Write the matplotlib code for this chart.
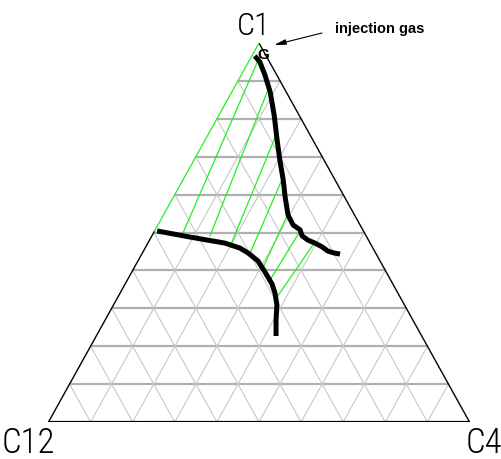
import matplotlib
matplotlib.use("Agg")
import matplotlib.pyplot as plt
from matplotlib.transforms import offset_copy
import numpy as np

# Pseudo-ternary diagram: C1 (top), C12 (bottom left), C4 (bottom right).
# Compositions are given as mole fractions (C1, C4); C12 = 1 - C1 - C4.
corners = ["C1", "C12", "C4"]

# Dew-point (vapour) branch of the two-phase envelope
vapour_c1 = [0.966, 0.950, 0.916, 0.871, 0.810, 0.744, 0.691, 0.639, 0.594,
             0.546, 0.520, 0.507, 0.491, 0.480, 0.472, 0.462, 0.451, 0.446, 0.443]
vapour_c4 = [0.007, 0.027, 0.056, 0.091, 0.131, 0.171, 0.204, 0.238, 0.265,
             0.296, 0.321, 0.344, 0.357, 0.376, 0.397, 0.419, 0.438, 0.455, 0.471]

# Bubble-point (liquid) branch of the two-phase envelope
liquid_c1 = [0.504, 0.488, 0.472, 0.459, 0.446, 0.425, 0.396, 0.364, 0.340,
             0.309, 0.269, 0.227]
liquid_c4 = [0.006, 0.092, 0.183, 0.225, 0.251, 0.285, 0.316, 0.349, 0.368,
             0.388, 0.406, 0.427]

# Tie lines: liquid end -> vapour end
tie_liq_c1 = [0.504, 0.499, 0.491, 0.462, 0.446, 0.406, 0.375, 0.322]
tie_liq_c4 = [0.000, 0.070, 0.138, 0.200, 0.256, 0.306, 0.339, 0.377]
tie_vap_c1 = [1.000, 0.960, 0.884, 0.757, 0.646, 0.549, 0.507, 0.472]
tie_vap_c4 = [0.000, 0.020, 0.082, 0.162, 0.234, 0.294, 0.346, 0.395]

# Injection gas composition (pure C1)
gas_c1, gas_c4 = 1.0, 0.0
n_grid = 10


def to_xy(c1, c4):
    c1 = np.asarray(c1, dtype=float)
    c4 = np.asarray(c4, dtype=float)
    return c4 + c1 / 2.0, c1


W, Hpx = 502, 459
fig = plt.figure(figsize=(W / 100, Hpx / 100), dpi=100)
ax = fig.add_axes([48.5 / W, (Hpx - 422) / Hpx, 421 / W, 379 / Hpx])
ax.set_xlim(0, 1)
ax.set_ylim(0, 1)
ax.axis("off")

# Grid lines every 10 %
for k in range(1, n_grid):
    f = k / n_grid
    # constant C1 (horizontal)
    x, y = to_xy([f, f], [0, 1 - f])
    ax.plot(x, y, color="#b0b0b0", lw=1.6, zorder=1)
    # constant C4
    x, y = to_xy([0, 1 - f], [f, f])
    ax.plot(x, y, color="#c8c8c8", lw=0.8, zorder=1)
    # constant C12
    x, y = to_xy([0, f], [f, 0])
    ax.plot(x, y, color="#c8c8c8", lw=0.8, zorder=1)

# Triangle outline
x, y = to_xy([0, 0], [0, 1])
ax.plot(x, y, color="black", lw=1.6, zorder=2, solid_capstyle="butt")
x, y = to_xy([0, 1], [1, 0])
ax.plot(x, y, color="black", lw=1.0, zorder=2)
x, y = to_xy([0, liquid_c1[0]], [0, 0])
ax.plot(x, y, color="black", lw=1.0, zorder=2)

# Tie lines
for a1, a4, b1, b4 in zip(tie_liq_c1, tie_liq_c4, tie_vap_c1, tie_vap_c4):
    x, y = to_xy([a1, b1], [a4, b4])
    ax.plot(x, y, color="#22ee22", lw=0.9, zorder=3)

# Phase envelope
x, y = to_xy(vapour_c1, vapour_c4)
ax.plot(x, y, color="black", lw=3.6, zorder=4, solid_capstyle="butt",
        solid_joinstyle="round")
x, y = to_xy(liquid_c1, liquid_c4)
ax.plot(x, y, color="black", lw=3.6, zorder=4, solid_capstyle="butt",
        solid_joinstyle="round")

# Corner labels
label_font = ["Roboto Condensed", "DejaVu Sans"]
offsets = {"C1": (-5.5, 8), "C12": (-20.5, -31), "C4": (14.5, -31)}
vertex_comp = {"C1": (1, 0), "C12": (0, 0), "C4": (0, 1)}
sizes = {"C1": 23, "C12": 25, "C4": 25}
for name in corners:
    vx, vy = to_xy(*vertex_comp[name])
    ax.annotate(name, xy=(float(vx), float(vy)), xytext=offsets[name],
                textcoords="offset pixels", ha="center", va="baseline",
                fontsize=sizes[name], family=label_font, weight="light",
                annotation_clip=False)

# Injection gas marker and callout
gx, gy = to_xy(gas_c1, gas_c4)
gx, gy = float(gx), float(gy)
ax.annotate("G", xy=(gx, gy), xytext=(4, -16),
            textcoords="offset pixels", ha="center", va="baseline",
            fontsize=11, weight="bold", family="Liberation Sans",
            annotation_clip=False, zorder=5)
ax.annotate("injection gas", xy=(gx, gy), xytext=(76, 14),
            textcoords="offset pixels", ha="left", va="center",
            fontsize=10.5, weight="bold", family="Liberation Sans",
            annotation_clip=False)
tip = offset_copy(ax.transData, fig=fig, x=15, y=-2, units="dots")
tail = offset_copy(ax.transData, fig=fig, x=63, y=10, units="dots")
ax.annotate("", xy=(gx, gy), xycoords=tip, xytext=(gx, gy), textcoords=tail,
            annotation_clip=False,
            arrowprops=dict(arrowstyle="-|>,head_length=0.7,head_width=0.16",
                            color="black", lw=0.8, shrinkA=0, shrinkB=0))

fig.savefig("out.png", dpi=100)
